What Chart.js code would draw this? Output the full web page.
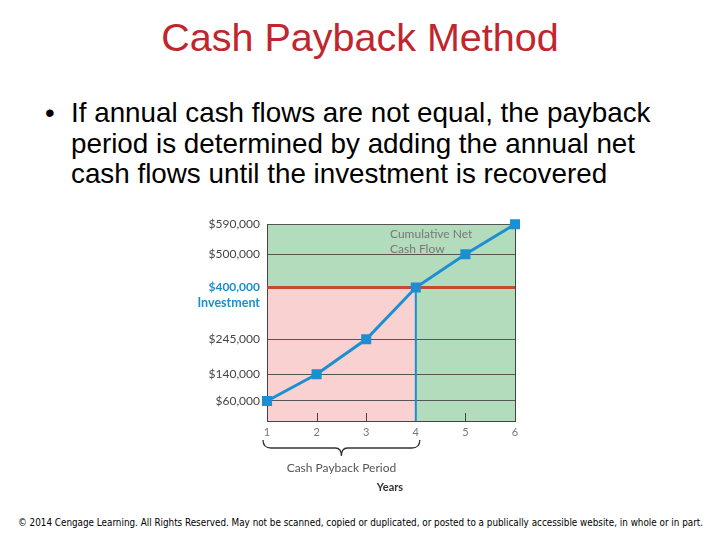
<!DOCTYPE html>
<html>
<head>
<meta charset="utf-8">
<script src="https://cdn.jsdelivr.net/npm/chart.js@4"></script>
<style>
    body { margin: 0; width: 720px; height: 540px; background: #fff; position: relative; overflow: hidden; font-family: "Liberation Sans", Arial, sans-serif; }
    #title { position: absolute; left: 0; top: 15px; width: 720px; text-align: center; font-size: 39.5px; color: #c0262d; }
    #bullet { position: absolute; left: 45px; top: 98px; font-size: 27.8px; line-height: 30.5px; color: #000; }
    #bullet .dot { position: absolute; left: 0; top: 0; }
    #bullet .txt { position: absolute; left: 26px; top: 0; white-space: nowrap; }
    #chartBox { position: absolute; left: 180px; top: 210px; width: 360px; height: 290px; }
    #footer { position: absolute; left: 18px; top: 516px; font-family: "DejaVu Sans Condensed", "Liberation Sans Narrow", sans-serif; font-size: 10.5px; color: #000; white-space: nowrap; transform-origin: 0 0; }
</style>
</head>
<body>
<div id="title">Cash Payback Method</div>
<div id="bullet"><span class="dot">•</span><div class="txt">If annual cash flows are not equal, the payback<br>period is determined by adding the annual net<br>cash flows until the investment is recovered</div></div>
<div id="chartBox"><canvas id="myChart"></canvas></div>
<span id="footer">© 2014 Cengage Learning. All Rights Reserved. May not be scanned, copied or duplicated, or posted to a publically accessible website, in whole or in part.</span>
<script>
const years = [1, 2, 3, 4, 5, 6];
const cumulativeCash = [60000, 140000, 245000, 400000, 500000, 590000];
const yTicks = [60000, 140000, 245000, 400000, 500000, 590000];
const investment = 400000;
const paybackYear = 4;

const blue = '#1b8fd2';
const labelFont = 'Lato, "Open Sans", sans-serif';

// squeeze footer to the slide width
const footer = document.getElementById('footer');
footer.style.transform = 'scaleX(' + (685 / footer.offsetWidth) + ')';

// shaded areas, red investment line and blue payback line
const regions = {
    id: 'regions',
    beforeDraw(chart) {
        const { ctx, chartArea: a, scales: { x, y } } = chart;
        const yi = y.getPixelForValue(investment);
        const xp = x.getPixelForValue(paybackYear);
        ctx.save();
        ctx.fillStyle = '#b3dcbd';
        ctx.fillRect(a.left, a.top, a.right - a.left, a.bottom - a.top);
        ctx.fillStyle = '#f8d1d0';
        ctx.fillRect(a.left, yi, xp - a.left, a.bottom - yi);
        ctx.restore();
    },
    beforeDatasetsDraw(chart) {
        const { ctx, chartArea: a, scales: { x, y } } = chart;
        const yi = y.getPixelForValue(investment);
        const xp = x.getPixelForValue(paybackYear);
        ctx.save();
        // right border
        ctx.strokeStyle = '#444';
        ctx.lineWidth = 1;
        ctx.beginPath();
        ctx.moveTo(a.right + 0.5, a.top);
        ctx.lineTo(a.right + 0.5, a.bottom);
        ctx.stroke();
        // inner tick marks
        years.forEach(v => {
            if (v === 1 || v === 6 || v === paybackYear) return;
            const px = Math.round(x.getPixelForValue(v)) + 0.5;
            ctx.beginPath();
            ctx.moveTo(px, a.bottom);
            ctx.lineTo(px, a.bottom - 8);
            ctx.stroke();
        });
        ctx.strokeStyle = '#c9482e';
        ctx.lineWidth = 3;
        ctx.beginPath();
        ctx.moveTo(a.left, yi);
        ctx.lineTo(a.right, yi);
        ctx.stroke();
        ctx.strokeStyle = blue;
        ctx.lineWidth = 2;
        ctx.beginPath();
        ctx.moveTo(xp, yi);
        ctx.lineTo(xp, a.bottom);
        ctx.stroke();
        ctx.restore();
    },
    afterDraw(chart) {
        const { ctx, scales: { x, y } } = chart;
        const yi = y.getPixelForValue(investment);
        ctx.save();
        ctx.font = 'bold 12.5px ' + labelFont;
        ctx.fillStyle = blue;
        ctx.textAlign = 'right';
        ctx.textBaseline = 'middle';
        ctx.fillText('Investment', 80, yi + 15);

        ctx.font = '12px ' + labelFont;
        ctx.fillStyle = '#777';
        ctx.textAlign = 'left';
        ctx.fillText('Cumulative Net', 210, 24);
        ctx.fillText('Cash Flow', 210, 39);

        // brace under years 1 to payback year
        const x1 = x.getPixelForValue(1) - 4;
        const x2 = x.getPixelForValue(paybackYear) + 4;
        const mid = (x1 + x2) / 2;
        const top = 230, bar = 238, tip = 246;
        ctx.strokeStyle = '#333';
        ctx.lineWidth = 1.3;
        ctx.beginPath();
        ctx.moveTo(x1, top);
        ctx.quadraticCurveTo(x1, bar, x1 + 8, bar);
        ctx.lineTo(mid - 6, bar);
        ctx.quadraticCurveTo(mid, bar, mid, tip);
        ctx.quadraticCurveTo(mid, bar, mid + 6, bar);
        ctx.lineTo(x2 - 8, bar);
        ctx.quadraticCurveTo(x2, bar, x2, top);
        ctx.stroke();

        ctx.font = '12px ' + labelFont;
        ctx.fillStyle = '#555';
        ctx.textAlign = 'center';
        ctx.fillText('Cash Payback Period', mid, 258);
        ctx.font = 'bold 11px ' + labelFont;
        ctx.fillStyle = '#333';
        ctx.fillText('Years', 210, 277);
        ctx.restore();
    }
};

const isInvestment = c => c.tick && c.tick.value === investment;

const ctx = document.getElementById('myChart').getContext('2d');

new Chart(ctx, {
    type: 'line',
    data: {
        datasets: [{
            data: years.map((yr, i) => ({ x: yr, y: cumulativeCash[i] })),
            borderColor: blue,
            backgroundColor: blue,
            borderWidth: 3,
            pointStyle: 'rect',
            pointRadius: 5,
            pointHoverRadius: 5,
            tension: 0,
            clip: false
        }]
    },
    options: {
        responsive: true,
        maintainAspectRatio: false,
        animation: false,
        layout: { padding: { top: 14, right: 25, left: 0, bottom: 0 } },
        plugins: {
            legend: { display: false },
            tooltip: { enabled: false }
        },
        scales: {
            x: {
                type: 'linear',
                min: 1,
                max: 6,
                afterFit: s => { s.height = 79; },
                ticks: { stepSize: 1, color: '#777', font: { size: 11, family: labelFont }, padding: 5 },
                grid: { display: true, drawOnChartArea: false, drawTicks: false },
                border: { display: true, color: '#444', width: 1 }
            },
            y: {
                min: 0,
                max: 590000,
                afterFit: s => { s.width = 87; },
                afterBuildTicks: s => { s.ticks = yTicks.map(v => ({ value: v })); },
                ticks: {
                    padding: 7,
                    color: c => isInvestment(c) ? blue : '#444',
                    font: c => isInvestment(c)
                        ? { size: 12, weight: 'bold', family: labelFont }
                        : { size: 12, family: labelFont },
                    callback: v => '$' + v.toLocaleString('en-US')
                },
                grid: { color: '#555', lineWidth: 1, drawTicks: false },
                border: { display: true, color: '#444', width: 1 }
            }
        }
    },
    plugins: [regions]
});
</script>
</body>
</html>
